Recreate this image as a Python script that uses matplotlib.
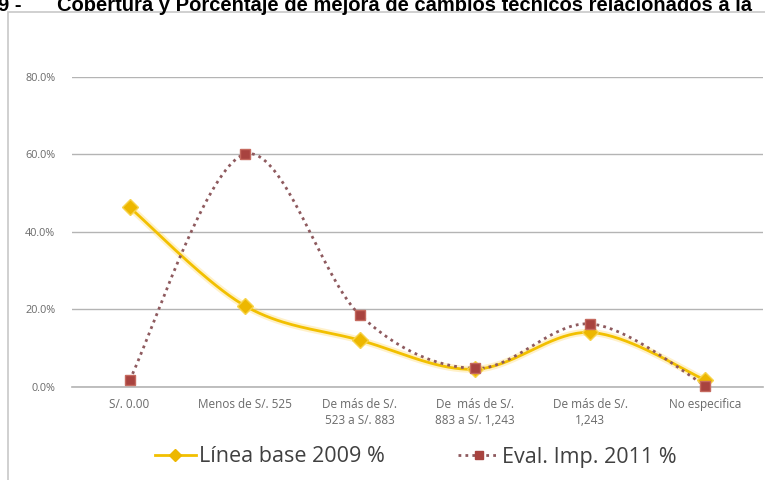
import numpy as np
import matplotlib.pyplot as plt
from matplotlib.patches import Rectangle
from matplotlib.lines import Line2D

# Data
categorias = ['S/. 0.00', 'Menos de S/. 525', 'De más de S/.\n523 a S/. 883',
              'De  más de S/.\n883 a S/. 1,243', 'De más de S/.\n1,243', 'No especifica']
linea_base_2009 = [46.3, 20.9, 12.0, 4.5, 14.0, 1.7]
eval_imp_2011 = [1.7, 60.0, 18.5, 4.7, 16.2, 0.3]
yticks = [0, 20, 40, 60, 80]

titulo = 'Cobertura y Porcentaje de mejora de cambios técnicos relacionados a la'

plt.rcParams['font.family'] = ['Open Sans', 'DejaVu Sans']

W, H = 765, 480


def suavizar(x, y, n=40):
    # curva suavizada tipo Excel (Catmull-Rom con Bezier cubico)
    x = np.asarray(x, float)
    y = np.asarray(y, float)
    px = np.concatenate([[x[0]], x, [x[-1]]])
    py = np.concatenate([[y[0]], y, [y[-1]]])
    xs, ys = [], []
    t = np.linspace(0, 1, n)
    for i in range(1, len(px) - 2):
        p0 = np.array([px[i], py[i]])
        p3 = np.array([px[i + 1], py[i + 1]])
        p1 = p0 + (np.array([px[i + 1], py[i + 1]]) - np.array([px[i - 1], py[i - 1]])) / 6
        p2 = p3 - (np.array([px[i + 2], py[i + 2]]) - np.array([px[i], py[i]])) / 6
        b = ((1 - t) ** 3)[:, None] * p0 + (3 * (1 - t) ** 2 * t)[:, None] * p1 \
            + (3 * (1 - t) * t ** 2)[:, None] * p2 + (t ** 3)[:, None] * p3
        xs.extend(b[:, 0])
        ys.extend(b[:, 1])
    return np.array(xs), np.array(ys)


fig = plt.figure(figsize=(W / 100, H / 100), dpi=100)

# marco del grafico
fig.patches.append(Rectangle((8 / W, -20 / H), 1, (480 - 12 + 20) / H, transform=fig.transFigure,
                             facecolor='white', edgecolor='#c8c8c8', linewidth=1.2, zorder=-5))

ax = fig.add_axes([72 / W, 1 - 386.7 / H, (763 - 72) / W, (386.7 - 76.7) / H])
ax.set_facecolor('none')
x = np.arange(len(categorias))

ax.set_xlim(-0.5, len(categorias) - 0.5)
ax.set_ylim(0, 80)
ax.set_yticks(yticks)
ax.set_yticklabels(['%.1f%%' % v for v in yticks], fontsize=7.8, color='#6a6a6a')
ax.set_xticks(x)
ax.set_xticklabels(categorias, fontsize=8.5, color='#6a6a6a', linespacing=1.35)
ax.tick_params(axis='both', length=0)
ax.tick_params(axis='y', pad=12)
ax.tick_params(axis='x', pad=8)
for s in ax.spines.values():
    s.set_visible(False)
ax.grid(axis='y', color='#b4b4b4', linewidth=1)
ax.axhline(0, color='#b4b4b4', linewidth=1.2, clip_on=False, zorder=1)
ax.set_axisbelow(True)

# Linea base 2009
sx, sy = suavizar(x, linea_base_2009)
ax.plot(sx, sy, color='#FFD966', linewidth=5, alpha=0.35, clip_on=False, solid_capstyle='round')
ax.plot(sx, sy, color='#F2C000', linewidth=2, clip_on=False)
ax.plot(x, linea_base_2009, linestyle='none', marker='D', markersize=8,
        color='#EDB700', markeredgecolor='#F7D34A', clip_on=False, zorder=4)

# Eval. Imp. 2011
sx2, sy2 = suavizar(x, eval_imp_2011)
ax.plot(sx2, sy2, color='#8E5A5E', linewidth=2, linestyle=(0, (1, 1.5)), clip_on=False, zorder=3)
ax.plot(x, eval_imp_2011, linestyle='none', marker='s', markersize=7.5,
        color='#A8433F', markeredgecolor='#C56A5F', clip_on=False, zorder=5)

# leyenda
h1 = Line2D([], [], color='#F2C000', linewidth=2, marker='D', markersize=6, markerfacecolor='#EDB700',
            markeredgecolor='#EDB700')
h2 = Line2D([], [], color='#8E5A5E', linewidth=2, linestyle=(0, (1, 1.5)), marker='s', markersize=6,
            markerfacecolor='#A8433F', markeredgecolor='#A8433F')
fig.legend([h1, h2], ['Línea base 2009 %', 'Eval. Imp. 2011 %'], loc='center',
           bbox_to_anchor=(416 / W, 1 - 457 / H), ncol=2, frameon=False, fontsize=15.5,
           handlelength=1.9, handletextpad=0.15, columnspacing=3.4, labelcolor='#404040')

# titulo recortado arriba
fig.text(57 / W, 1 - 11 / H, titulo, fontsize=14.5, fontweight='bold', va='baseline', ha='left',
         family='Liberation Sans', color='black')
fig.text(-2 / W, 1 - 11 / H, '9 -', fontsize=14.5, fontweight='bold', va='baseline', ha='left',
         family='Liberation Sans', color='black')

fig.savefig('out.png', dpi=100)
